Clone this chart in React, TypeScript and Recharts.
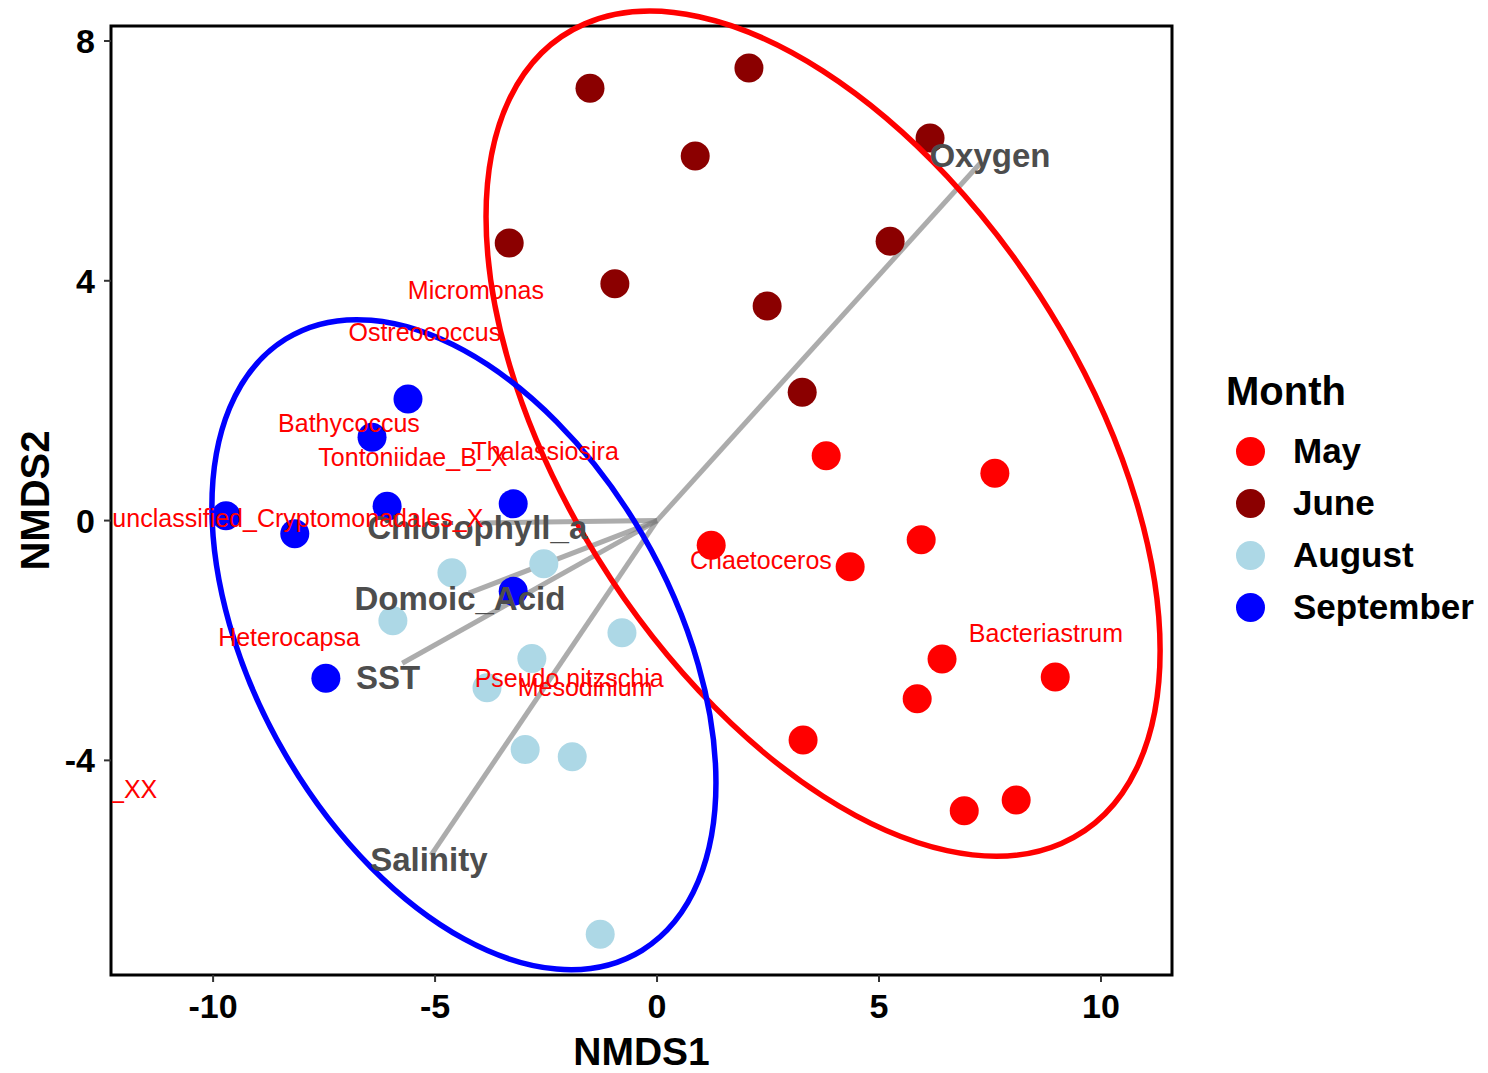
import React from 'react'
import { ScatterChart, Scatter, XAxis, YAxis, ReferenceLine, ReferenceArea, Legend } from 'recharts'

const FONT = '"Liberation Sans", Arial, Helvetica, sans-serif'

// axis ranges and ticks
const X_DOMAIN: [number, number] = [-12.3, 11.6]
const Y_DOMAIN: [number, number] = [-7.58, 8.25]
const X_TICKS = [-10, -5, 0, 5, 10]
const Y_TICKS = [-4, 0, 4, 8]

const MONTHS = ['May', 'June', 'August', 'September']
const MONTH_COLORS: Record<string, string> = {
  May: '#FF0000',
  June: '#8B0000',
  August: '#ADD8E6',
  September: '#0000FF',
}

// site scores (NMDS1, NMDS2) by month
const MAY = [
  [3.81, 1.08], [7.61, 0.79], [1.22, -0.41], [5.95, -0.32], [4.35, -0.77], [6.42, -2.31],
  [8.97, -2.61], [5.86, -2.97], [3.29, -3.66], [6.92, -4.84], [8.09, -4.66],
]
const JUNE = [
  [-1.51, 7.21], [2.07, 7.55], [0.86, 6.08], [6.15, 6.38], [-3.33, 4.63], [5.25, 4.66],
  [-0.95, 3.95], [2.48, 3.58], [3.27, 2.14],
]
const AUGUST = [
  [-2.55, -0.72], [-4.62, -0.87], [-5.95, -1.67], [-0.79, -1.87], [-2.82, -2.3], [-3.83, -2.79],
  [-2.97, -3.82], [-1.91, -3.94], [-1.28, -6.9],
]
const SEPTEMBER = [
  [-5.61, 2.03], [-6.42, 1.39], [-6.08, 0.24], [-3.24, 0.28], [-9.71, 0.08], [-8.16, -0.22],
  [-3.24, -1.18], [-7.46, -2.63],
]
const POINTS: Record<string, number[][]> = { May: MAY, June: JUNE, August: AUGUST, September: SEPTEMBER }

// group ellipses: centre and covariance in NMDS units
const ELLIPSES = [
  { group: 'May-June', x: 3.74, y: 1.45, sxx: 57.64, syy: 49.67, sxy: -27.47, color: '#FF0000' },
  { group: 'August-September', x: -4.35, y: -2.07, sxx: 32.23, syy: 29.39, sxy: -13.07, color: '#0000FF' },
]

// environmental fit arrows
const VECTORS = [
  { name: 'Oxygen', x: 7.28, y: 5.96, lx: 7.5, ly: 6.1 },
  { name: 'Chlorophyll_a', x: -3.99, y: -0.04, lx: -4.05, ly: -0.11 },
  { name: 'Domoic_Acid', x: -4.24, y: -1.21, lx: -4.44, ly: -1.29 },
  { name: 'SST', x: -5.74, y: -2.38, lx: -6.06, ly: -2.61 },
  { name: 'Salinity', x: -5.09, y: -5.58, lx: -5.14, ly: -5.64 },
]

// taxa labels
const TAXA = [
  { name: 'Micromonas', x: -4.08, y: 3.85 },
  { name: 'Ostreococcus', x: -5.23, y: 3.14 },
  { name: 'Bathycoccus', x: -6.94, y: 1.63 },
  { name: 'Tontoniidae_B_X', x: -5.5, y: 1.06 },
  { name: 'Thalassiosira', x: -2.52, y: 1.16 },
  { name: 'unclassified_Cryptomonadales_X', x: -8.09, y: 0.04 },
  { name: 'Heterocapsa', x: -8.29, y: -1.94 },
  { name: 'Chaetoceros', x: 2.34, y: -0.66 },
  { name: 'Bacteriastrum', x: 8.76, y: -1.88 },
  { name: 'Pseudo.nitzschia', x: -1.98, y: -2.62 },
  { name: 'Mesodinium', x: -1.62, y: -2.77 },
  { name: '_XX', x: -11.79, y: -4.48 },
]

const W = 1488
const H = 1073
const PLOT = { left: 111, top: 26, right: 1172, bottom: 975 }
const SX = (PLOT.right - PLOT.left) / (X_DOMAIN[1] - X_DOMAIN[0])
const SY = (PLOT.bottom - PLOT.top) / (Y_DOMAIN[1] - Y_DOMAIN[0])

const EllipseShape = (p: any) => {
  const e = p.payload
  const sxx = e.sxx * SX * SX
  const syy = e.syy * SY * SY
  const sxy = -e.sxy * SX * SY
  const l11 = Math.sqrt(sxx)
  const l21 = sxy / l11
  const l22 = Math.sqrt(syy - l21 * l21)
  return (
    <circle
      r={1}
      fill="none"
      stroke={e.color}
      strokeWidth={5.5}
      vectorEffect="non-scaling-stroke"
      transform={`matrix(${l11} ${l21} 0 ${l22} ${p.cx} ${p.cy})`}
    />
  )
}

const TaxonLabel = (p: any) => {
  const id = 'clip-' + p.payload.name.replace(/[^A-Za-z]/g, '')
  return (
    <g>
      <defs>
        <clipPath id={id}>
          <rect x={PLOT.left + 1} y={PLOT.top} width={PLOT.right - PLOT.left} height={PLOT.bottom - PLOT.top} />
        </clipPath>
      </defs>
      <text
        x={p.cx}
        y={p.cy}
        dy="0.36em"
        textAnchor="middle"
        fontSize={25}
        fontFamily={FONT}
        fill="#FF0000"
        clipPath={`url(#${id})`}
      >
        {p.payload.name}
      </text>
    </g>
  )
}

const VectorLabel = (p: any) => (
  <text
    x={p.cx}
    y={p.cy}
    dy="0.36em"
    textAnchor="middle"
    fontSize={33}
    fontWeight={700}
    fontFamily={FONT}
    fill="#4D4D4D"
  >
    {p.payload.name}
  </text>
)

const MonthLegend = () => (
  <div style={{ position: 'relative', width: 278, height: 280, fontFamily: FONT, fontWeight: 700, color: '#000' }}>
    <div style={{ position: 'absolute', left: 16, top: 9, fontSize: 40, lineHeight: '44px' }}>Month</div>
    {MONTHS.map((m, i) => (
      <div
        key={m}
        style={{ position: 'absolute', left: 26, top: 71 + 52 * i, height: 40, display: 'flex', alignItems: 'center' }}
      >
        <span style={{ width: 29, height: 29, borderRadius: '50%', background: MONTH_COLORS[m], display: 'inline-block' }} />
        <span style={{ marginLeft: 28, fontSize: 35, whiteSpace: 'nowrap' }}>{m}</span>
      </div>
    ))}
  </div>
)

const tickStyle = { fill: '#000', fontSize: 34, fontWeight: 700, fontFamily: FONT }

export default function App() {
  const vectorLabels = VECTORS.map(v => ({ name: v.name, x: v.lx, y: v.ly }))
  return (
    <div style={{ position: 'absolute', left: 0, top: 0, width: W, height: H, background: '#fff' }}>
      <ScatterChart width={W} height={H} margin={{ top: PLOT.top, right: W - PLOT.right, bottom: 0, left: 0 }}>
        <XAxis
          type="number"
          dataKey="x"
          domain={X_DOMAIN}
          ticks={X_TICKS}
          height={H - PLOT.bottom}
          axisLine={false}
          tickSize={7}
          tickMargin={12}
          tickLine={{ stroke: '#333', strokeWidth: 2 }}
          tick={tickStyle}
          label={() => (
            <text
              x={(PLOT.left + PLOT.right) / 2}
              y={1065}
              textAnchor="middle"
              fontSize={39}
              fontWeight={700}
              fontFamily={FONT}
              fill="#000"
            >
              NMDS1
            </text>
          )}
        />
        <YAxis
          type="number"
          dataKey="y"
          domain={Y_DOMAIN}
          ticks={Y_TICKS}
          width={PLOT.left}
          axisLine={false}
          tickSize={7}
          tickMargin={9}
          tickLine={{ stroke: '#333', strokeWidth: 2 }}
          tick={tickStyle}
          label={() => (
            <text
              x={0}
              y={0}
              transform={`translate(49 ${(PLOT.top + PLOT.bottom) / 2}) rotate(-90)`}
              textAnchor="middle"
              fontSize={40}
              fontWeight={700}
              fontFamily={FONT}
              fill="#000"
            >
              NMDS2
            </text>
          )}
        />
        <ReferenceArea
          x1={X_DOMAIN[0]}
          x2={X_DOMAIN[1]}
          y1={Y_DOMAIN[0]}
          y2={Y_DOMAIN[1]}
          fill="none"
          fillOpacity={0}
          stroke="#000"
          strokeWidth={3}
          ifOverflow="visible"
        />
        {MONTHS.map(m => (
          <Scatter
            key={m}
            name={m}
            data={POINTS[m].map(([x, y]) => ({ x, y }))}
            isAnimationActive={false}
            shape={(p: any) => <circle cx={p.cx} cy={p.cy} r={14.5} fill={MONTH_COLORS[m]} />}
          />
        ))}
        {VECTORS.map(v => (
          <ReferenceLine
            key={v.name}
            segment={[{ x: 0, y: 0 }, { x: v.x, y: v.y }]}
            stroke="#7f7f7f"
            strokeOpacity={0.65}
            strokeWidth={5}
            ifOverflow="visible"
          />
        ))}
        <Scatter name="ellipses" data={ELLIPSES} isAnimationActive={false} shape={EllipseShape} />
        <Scatter name="vectors" data={vectorLabels} isAnimationActive={false} shape={VectorLabel} />
        <Scatter name="taxa" data={TAXA} isAnimationActive={false} shape={TaxonLabel} />
        <Legend
          layout="horizontal"
          align="center"
          verticalAlign="middle"
          wrapperStyle={{ left: 1210, top: 360, width: 278, height: 280 }}
          content={() => <MonthLegend />}
        />
      </ScatterChart>
    </div>
  )
}
